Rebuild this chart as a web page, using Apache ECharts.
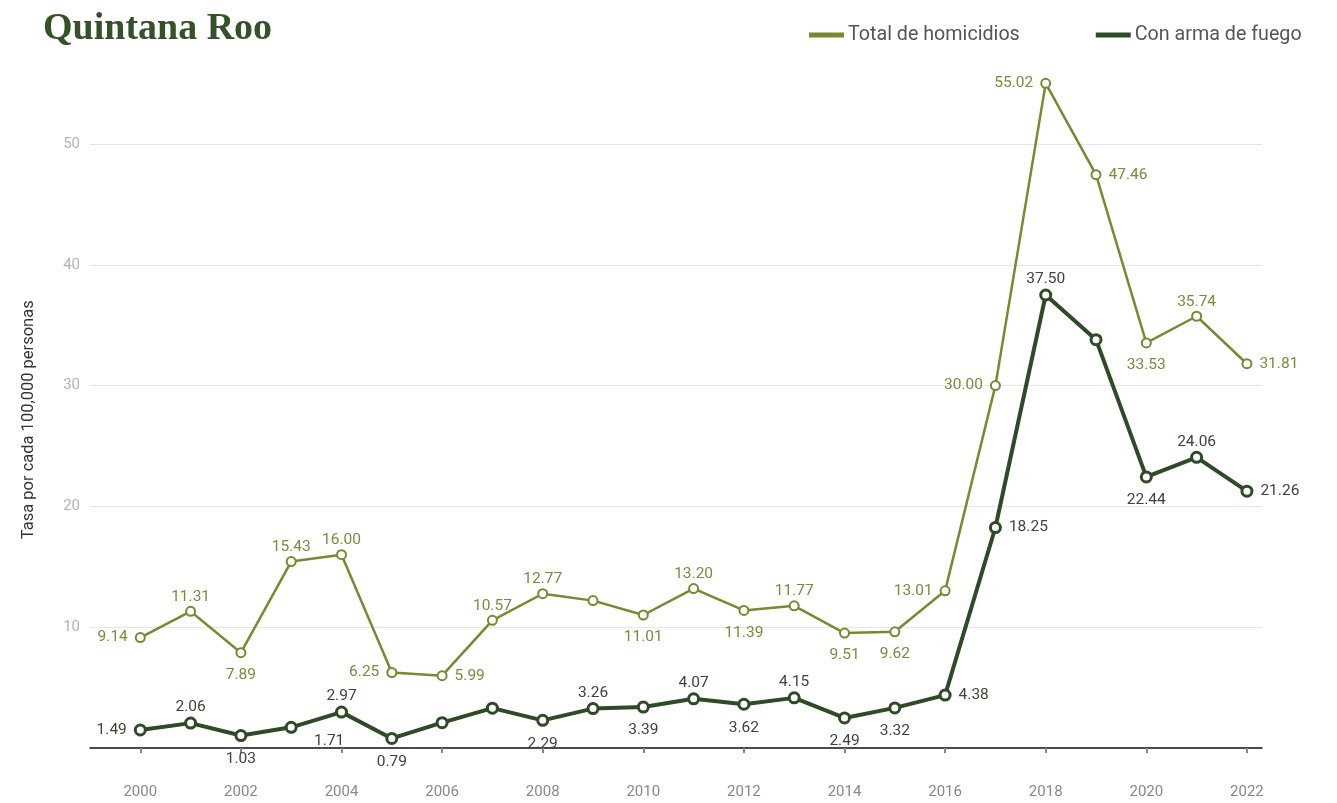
<!DOCTYPE html>
<html>
<head>
<meta charset="utf-8">
<script src="https://cdn.jsdelivr.net/npm/echarts@6/dist/echarts.min.js"></script>
<style>
html,body{margin:0;padding:0;background:#fff;}
#chart{width:1337px;height:803px;}
</style>
</head>
<body>
<div id="chart"></div>
<script>
const years = [2000,2001,2002,2003,2004,2005,2006,2007,2008,2009,2010,2011,2012,2013,2014,2015,2016,2017,2018,2019,2020,2021,2022];
const totalHomicidios = [9.14,11.31,7.89,15.43,16.00,6.25,5.99,10.57,12.77,12.2,11.01,13.20,11.39,11.77,9.51,9.62,13.01,30.00,55.02,47.46,33.53,35.74,31.81];
const armaDeFuego = [1.49,2.06,1.03,1.71,2.97,0.79,2.1,3.3,2.29,3.26,3.39,4.07,3.62,4.15,2.49,3.32,4.38,18.25,37.50,33.8,22.44,24.06,21.26];
const yearTicks = [2000,2002,2004,2006,2008,2010,2012,2014,2016,2018,2020,2022];
const seriesNames = ['Total de homicidios','Con arma de fuego'];
const title = 'Quintana Roo';
const yName = 'Tasa por cada 100,000 personas';

// label placement (style only)
const totalLabelPos = ['left','top','bottom','top','top','left','right','top','top',null,'bottom','top','bottom','top','bottom','bottom','left','left','left','right','bottom','top','right'];
const fuegoLabelPos = ['left','top','bottom','br','top','bottom',null,null,'bottom','top','bottom','top','bottom','top','bottom','bottom','right','right','top',null,'bottom','top','right'];

const OLIVE = '#768a30';
const DARK = '#2f4a27';

function build(vals, pos, topDist, bottomDist) {
  return vals.map((v, i) => {
    const p = pos[i];
    const item = { value: [years[i], v] };
    if (!p) {
      item.label = { show: false };
    } else if (p === 'br') {
      item.label = { show: true, position: 'bottom', offset: [38, -10], distance: bottomDist };
    } else {
      const d = p === 'top' ? topDist : p === 'bottom' ? bottomDist : 7;
      item.label = { show: true, position: p, distance: d };
    }
    return item;
  });
}

const chart = echarts.init(document.getElementById('chart'), null, { renderer: 'canvas' });
chart.setOption({
  animation: false,
  backgroundColor: '#fff',
  title: {
    text: title,
    left: 38,
    top: 5,
    textStyle: { fontFamily: 'Liberation Serif', fontWeight: 'bold', fontSize: 38, color: '#34512a' }
  },
  legend: {
    left: 804,
    top: 20,
    itemWidth: 33,
    itemHeight: 3,
    itemGap: 76,
    icon: 'rect',
    textStyle: { fontFamily: 'Roboto', fontSize: 19.7, color: '#555' },
    data: [
      { name: seriesNames[0], itemStyle: { color: OLIVE } },
      { name: seriesNames[1], itemStyle: { color: DARK } }
    ]
  },
  grid: { left: 90, right: 75, top: 71.5, bottom: 55, containLabel: false },
  xAxis: [
    {
      type: 'value', min: 1999, max: 2022.3, position: 'bottom',
      axisLine: { show: true, onZero: false, lineStyle: { color: '#111', width: 1.5 } },
      axisTick: { show: false }, axisLabel: { show: false }, splitLine: { show: false }
    },
    {
      type: 'value', min: 1999, max: 2022.3, position: 'bottom', offset: 20,
      axisLine: { show: false },
      axisTick: { show: true, customValues: yearTicks, length: 5, lineStyle: { color: '#888', width: 2 } },
      axisLabel: { show: true, customValues: yearTicks, margin: 17, fontFamily: 'Roboto', fontSize: 15, color: '#888', formatter: v => String(v) },
      splitLine: { show: false }
    }
  ],
  yAxis: {
    type: 'value', min: 0, max: 56, interval: 10,
    name: yName, nameLocation: 'middle', nameGap: 53,
    nameTextStyle: { fontFamily: 'Roboto', fontSize: 16.5, color: '#333', padding: [0, 20, 0, 0] },
    axisLine: { show: false }, axisTick: { show: false },
    axisLabel: { showMinLabel: false, showMaxLabel: false, margin: 10, fontFamily: 'Roboto', fontSize: 15, color: '#b3b3b3' },
    splitLine: { show: true, showMinLine: false, showMaxLine: false, lineStyle: { color: '#e6e6e6', width: 1 } }
  },
  series: [
    {
      name: seriesNames[0], type: 'line', xAxisIndex: 0,
      data: build(totalHomicidios, totalLabelPos, 1, 9),
      symbol: 'circle', symbolSize: 9, showAllSymbol: true,
      lineStyle: { color: OLIVE, width: 2.5 },
      itemStyle: { color: '#fff', borderColor: OLIVE, borderWidth: 2 },
      label: { fontFamily: 'Roboto', fontSize: 15.5, color: '#7a8b3c', formatter: p => p.value[1].toFixed(2) },
      z: 2
    },
    {
      name: seriesNames[1], type: 'line', xAxisIndex: 0,
      data: build(armaDeFuego, fuegoLabelPos, 1, 9),
      symbol: 'circle', symbolSize: 10, showAllSymbol: true,
      lineStyle: { color: DARK, width: 4 },
      itemStyle: { color: '#fff', borderColor: DARK, borderWidth: 3 },
      label: { fontFamily: 'Roboto', fontSize: 15.5, color: '#3a4437', formatter: p => p.value[1].toFixed(2) },
      z: 3
    }
  ]
});
</script>
</body>
</html>
